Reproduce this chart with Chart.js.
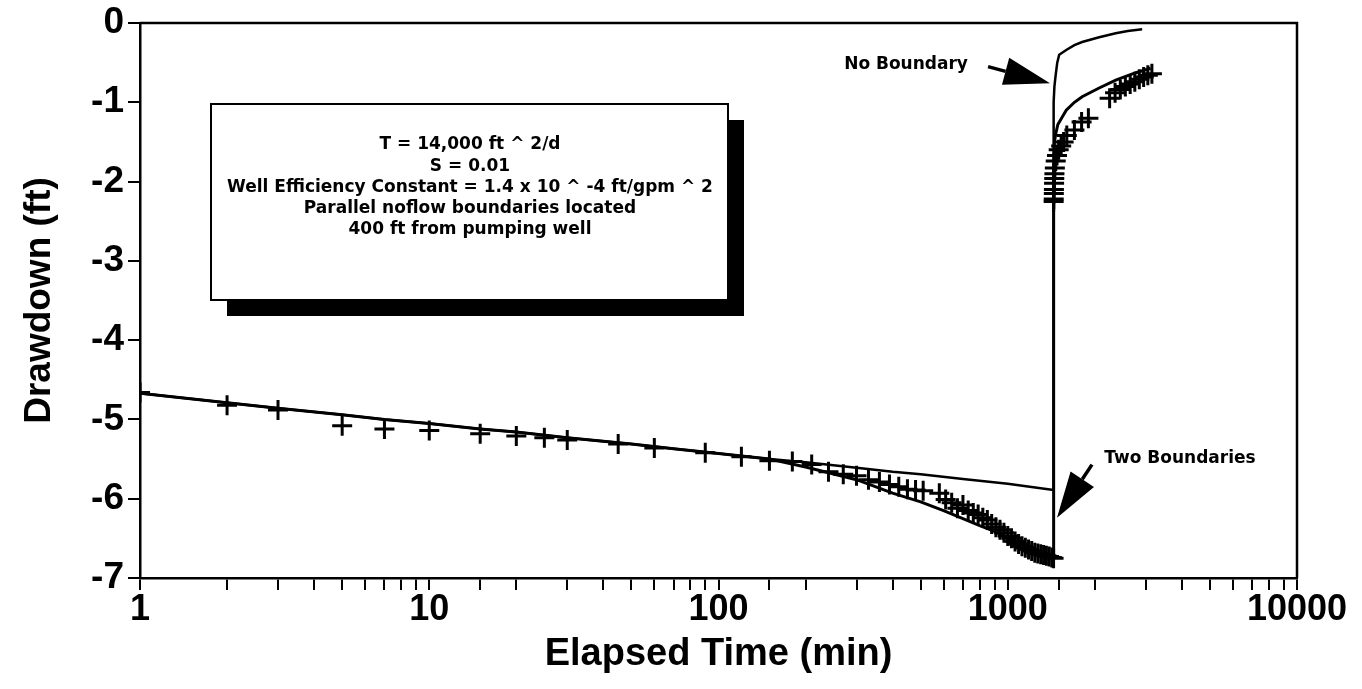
<!DOCTYPE html>
<html>
<head>
<meta charset="utf-8">
<script src="https://cdn.jsdelivr.net/npm/chart.js@4.4.1/dist/chart.umd.min.js"></script>
<style>
  body { margin: 0; background: #fff; }
  canvas { display: block; }
</style>
</head>
<body>
<canvas id="c" width="1362" height="689"></canvas>
<script>
// Elapsed time (min) and drawdown (ft)

// observed drawdown (+ markers), pumping then recovery
const obsTime = [1, 2, 3, 5, 7, 10, 15, 20, 25, 30, 45, 60, 90, 120, 150, 180, 210, 240, 270, 300,
  330, 360, 390, 420, 450, 480, 510, 580, 610, 640, 670, 700, 730, 760, 790, 820, 850, 880, 910, 940,
  970, 1000, 1030, 1060, 1090, 1120, 1150, 1180, 1210, 1240, 1270, 1300, 1330, 1360, 1390, 1420, 1440,
  1441, 1442, 1443, 1444, 1446, 1448, 1450, 1455, 1465, 1480, 1500, 1530, 1560, 1600, 1700, 1800, 1900,
  2250, 2350, 2450, 2550, 2650, 2750, 2850, 2950, 3050, 3150];
const obsDrawdown = [-4.66, -4.82, -4.88, -5.08, -5.12, -5.14, -5.18, -5.21, -5.23, -5.26, -5.31, -5.36, -5.42, -5.47, -5.52, -5.53, -5.57, -5.66, -5.69, -5.71,
  -5.76, -5.79, -5.82, -5.85, -5.88, -5.89, -5.90, -5.93, -6.01, -6.05, -6.12, -6.08, -6.15, -6.18, -6.20, -6.24, -6.27, -6.32, -6.36, -6.39,
  -6.43, -6.47, -6.50, -6.54, -6.57, -6.60, -6.62, -6.64, -6.66, -6.68, -6.69, -6.70, -6.71, -6.72, -6.73, -6.74, -6.75,
  -2.25, -2.22, -2.15, -2.10, -2.02, -1.96, -1.90, -1.83, -1.74, -1.67, -1.60, -1.55, -1.50, -1.42, -1.35, -1.25, -1.20,
  -0.95, -0.88, -0.84, -0.80, -0.77, -0.74, -0.71, -0.68, -0.66, -0.64];

// model, no boundary
const noBoundTime = [1, 2, 3, 5, 7, 10, 15, 20, 30, 50, 70, 100, 150, 200, 300, 400, 500, 700, 1000, 1440,
  1441, 1450, 1465, 1483, 1506, 1593, 1700, 1808, 2070, 2362, 2600, 2915];
const noBoundDrawdown = [-4.67, -4.79, -4.86, -4.94, -5.00, -5.05, -5.12, -5.16, -5.23, -5.31, -5.37, -5.43, -5.50, -5.54, -5.61, -5.66, -5.69, -5.75, -5.81, -5.89,
  -1.00, -0.80, -0.65, -0.50, -0.40, -0.34, -0.28, -0.24, -0.18, -0.13, -0.10, -0.08];

// model, two parallel boundaries
const twoBoundTime = [1, 2, 3, 5, 7, 10, 15, 20, 30, 50, 70, 100, 150, 200, 300, 400, 500, 600, 700, 800, 900, 1000, 1200, 1440,
  1441, 1450, 1465, 1490, 1593, 1700, 1808, 2070, 2362, 2756, 3118];
const twoBoundDrawdown = [-4.67, -4.79, -4.86, -4.94, -5.00, -5.05, -5.12, -5.16, -5.23, -5.31, -5.37, -5.43, -5.50, -5.60, -5.76, -5.93, -6.04, -6.15, -6.25, -6.34, -6.41, -6.50, -6.63, -6.74,
  -1.80, -1.50, -1.40, -1.28, -1.10, -1.00, -0.93, -0.82, -0.72, -0.63, -0.57];

const xTickLabels = [1, 10, 100, 1000, 10000];
const boxLines = [
  'T = 14,000 ft ^ 2/d',
  'S = 0.01',
  'Well Efficiency Constant = 1.4 x 10 ^ -4 ft/gpm ^ 2',
  'Parallel noflow boundaries located',
  '400 ft from pumping well'
];

const FONT = "'Liberation Sans', Arial, Helvetica, sans-serif";
const NOTE_FONT = "'DejaVu Sans', 'Liberation Sans', sans-serif";

function toPoints(xs, ys) {
  return xs.map((x, i) => ({ x: x, y: ys[i] }));
}

function drawArrow(ctx, x0, y0, x1, y1) {
  const ang = Math.atan2(y1 - y0, x1 - x0);
  const headLen = 46, headW = 14;
  const bx = x1 - headLen * Math.cos(ang), by = y1 - headLen * Math.sin(ang);
  ctx.beginPath();
  ctx.moveTo(x0, y0);
  ctx.lineTo(bx, by);
  ctx.lineWidth = 3.5;
  ctx.stroke();
  ctx.beginPath();
  ctx.moveTo(x1, y1);
  ctx.lineTo(bx + headW * Math.sin(ang), by - headW * Math.cos(ang));
  ctx.lineTo(bx - headW * Math.sin(ang), by + headW * Math.cos(ang));
  ctx.closePath();
  ctx.fill();
}

// frame, text box and the two labelled arrows
const extras = {
  id: 'extras',
  afterDraw(chart) {
    const ctx = chart.ctx;
    const a = chart.chartArea;
    const xs = chart.scales.x, ys = chart.scales.y;
    ctx.save();
    ctx.strokeStyle = '#000';
    ctx.fillStyle = '#000';
    ctx.lineWidth = 2.5;
    ctx.beginPath();
    ctx.moveTo(a.left, a.top);
    ctx.lineTo(a.right, a.top);
    ctx.lineTo(a.right, a.bottom);
    ctx.stroke();

    // parameter box with drop shadow
    const bx = 211, by = 104, bw = 517, bh = 196;
    ctx.fillRect(bx + 16, by + 16, bw, bh);
    ctx.fillStyle = '#fff';
    ctx.fillRect(bx, by, bw, bh);
    ctx.lineWidth = 2;
    ctx.strokeRect(bx, by, bw, bh);
    ctx.fillStyle = '#000';
    ctx.font = 'bold 17px ' + NOTE_FONT;
    ctx.textAlign = 'center';
    ctx.textBaseline = 'middle';
    boxLines.forEach((t, i) => ctx.fillText(t, 470, 145 + i * 21.2));

    // arrows
    drawArrow(ctx, xs.getPixelForValue(855), ys.getPixelForValue(-0.55),
      xs.getPixelForValue(1400), ys.getPixelForValue(-0.76));
    drawArrow(ctx, xs.getPixelForValue(1955), ys.getPixelForValue(-5.57),
      xs.getPixelForValue(1480), ys.getPixelForValue(-6.24));
    ctx.font = 'bold 17px ' + NOTE_FONT;
    ctx.fillText('No Boundary', xs.getPixelForValue(445), ys.getPixelForValue(-0.53));
    ctx.fillText('Two Boundaries', xs.getPixelForValue(3940), ys.getPixelForValue(-5.49));
    ctx.restore();
  }
};

new Chart(document.getElementById('c'), {
  type: 'scatter',
  data: {
    datasets: [
      {
        label: 'No Boundary',
        data: toPoints(noBoundTime, noBoundDrawdown),
        showLine: true,
        borderColor: '#000',
        borderWidth: 2.5,
        pointRadius: 0,
        tension: 0
      },
      {
        label: 'Two Boundaries',
        data: toPoints(twoBoundTime, twoBoundDrawdown),
        showLine: true,
        borderColor: '#000',
        borderWidth: 3,
        pointRadius: 0,
        tension: 0
      },
      {
        label: 'Observed',
        data: toPoints(obsTime, obsDrawdown),
        showLine: false,
        pointStyle: 'cross',
        pointRadius: 10,
        borderColor: '#000',
        borderWidth: 3
      }
    ]
  },
  options: {
    responsive: false,
    animation: false,
    devicePixelRatio: 1,
    layout: { padding: { top: 23, right: 65, left: 0, bottom: 0 } },
    plugins: {
      legend: { display: false },
      tooltip: { enabled: false }
    },
    scales: {
      x: {
        type: 'logarithmic',
        min: 1,
        max: 10000,
        afterFit: s => { s.height = 111; },
        border: { display: true, color: '#000', width: 2.5 },
        grid: { drawOnChartArea: false, drawTicks: true, tickLength: 12, color: '#000', lineWidth: 2 },
        ticks: {
          autoSkip: false,
          maxRotation: 0,
          padding: 2,
          color: '#000',
          font: { family: FONT, size: 36, weight: 'bold', lineHeight: 1 },
          callback: v => xTickLabels.includes(v) ? String(v) : ''
        },
        title: {
          display: true,
          text: 'Elapsed Time (min)',
          color: '#000',
          font: { family: FONT, size: 38, weight: 'bold', lineHeight: 1.2 },
          padding: { top: 0, bottom: 12 }
        }
      },
      y: {
        min: -7,
        max: 0,
        afterFit: s => { s.width = 140; },
        border: { display: true, color: '#000', width: 2.5 },
        grid: { drawOnChartArea: false, drawTicks: true, tickLength: 12, color: '#000', lineWidth: 2 },
        ticks: {
          stepSize: 1,
          padding: 4,
          color: '#000',
          font: { family: FONT, size: 37, weight: 'bold', lineHeight: 1 }
        },
        title: {
          display: true,
          text: 'Drawdown (ft)',
          color: '#000',
          font: { family: FONT, size: 37, weight: 'bold', lineHeight: 1.2 },
          padding: { top: 18, bottom: 0 }
        }
      }
    }
  },
  plugins: [extras]
});
</script>
</body>
</html>
